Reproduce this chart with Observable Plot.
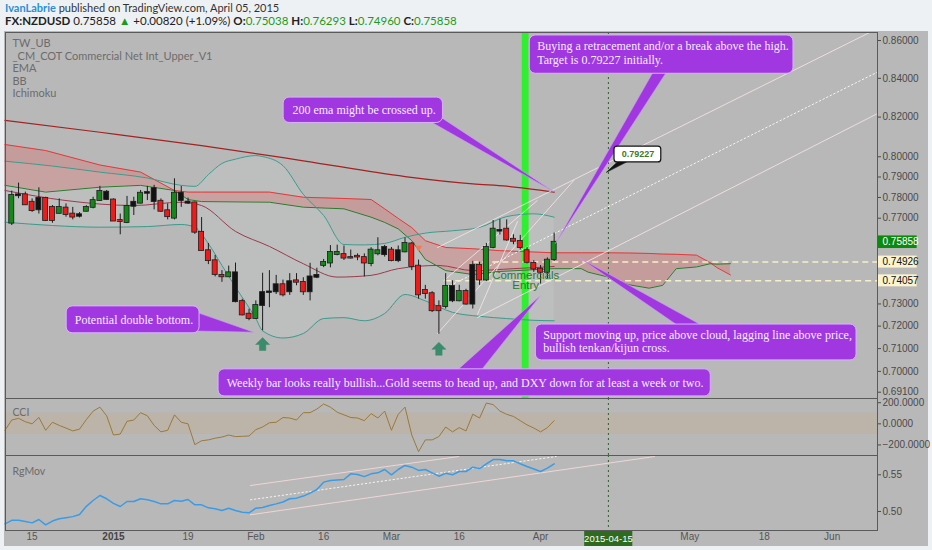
<!DOCTYPE html>
<html>
<head>
<meta charset="utf-8">
<script src="https://cdn.jsdelivr.net/npm/d3@7"></script>
<script src="https://cdn.jsdelivr.net/npm/@observablehq/plot@0.6"></script>
<style>
  body { margin:0; width:932px; height:550px; overflow:hidden; position:relative; background:#eef1f4; font-family: Lato, "Liberation Sans", sans-serif; }
  #bg { position:absolute; left:4px; top:31px; width:924px; height:515px; background:#b8b8b8; }
  .pane { position:absolute; left:0; }
  #h1 { position:absolute; left:5px; top:0px; font-size:11px; line-height:15px; color:#333; white-space:nowrap; }
  #h2 { position:absolute; left:5px; top:13px; font-size:11.5px; line-height:15px; color:#222; white-space:nowrap; }
  #h1 .who { color:#2a8fd6; font-weight:bold; }
  #h2 b { font-weight:bold; }
  #h2 .g { color:#1c9a1c; }
</style>
</head>
<body>
<div id="bg"></div>
<div id="h1"><span class="who">IvanLabrie</span> published on TradingView.com, April 05, 2015</div>
<div id="h2"><b>FX:NZDUSD</b> 0.75858 <span class="g">&#9650;</span> +0.00820 (+1.09%) <b>O:</b><span class="g">0.75038</span> <b>H:</b><span class="g">0.76293</span> <b>L:</b><span class="g">0.74960</span> <b>C:</b><span class="g">0.75858</span></div>
<div id="main" class="pane" style="top:31px"></div>
<div id="cci" class="pane" style="top:398px"></div>
<div id="rg" class="pane" style="top:455px"></div>
<script>
// ---------- DATA (bar index 0 = 2014-12-15, trading days) ----------
const candleStart = -3;
const opens  = [0.7676,0.7813,0.7813,0.7777,0.7796,0.7796,0.7752,0.7723,0.7749,0.7720,0.7717,0.7733,0.7752,0.7785,0.7826,0.7788,0.7689,0.7679,0.7777,0.7772,0.7824,0.7843,0.7782,0.7736,0.7700,0.7821,0.7778,0.7774,0.7633,0.7546,0.7499,0.7431,0.7424,0.7443,0.7311,0.7254,0.7234,0.7293,0.7355,0.7355,0.7388,0.7355,0.7406,0.7399,0.7355,0.7431,0.7477,0.7488,0.7528,0.7528,0.7514,0.7520,0.7514,0.7486,0.7531,0.7561,0.7549,0.7499,0.7540,0.7578,0.7474,0.7362,0.7347,0.7288,0.7288,0.7380,0.7314,0.7357,0.7299,0.7477,0.7409,0.7561,0.7642,0.7648,0.7600,0.7590,0.7546,0.7487,0.7460,0.7445,0.7504];
const highs  = [0.7831,0.7870,0.7826,0.7793,0.7847,0.7801,0.7761,0.7793,0.7769,0.7752,0.7727,0.7760,0.7801,0.7854,0.7834,0.7793,0.7720,0.7805,0.7801,0.7834,0.7854,0.7859,0.7793,0.7769,0.7891,0.7854,0.7797,0.7777,0.7703,0.7580,0.7524,0.7453,0.7474,0.7488,0.7321,0.7276,0.7314,0.7441,0.7453,0.7431,0.7409,0.7439,0.7439,0.7420,0.7487,0.7464,0.7505,0.7570,0.7572,0.7568,0.7549,0.7531,0.7531,0.7560,0.7607,0.7571,0.7561,0.7568,0.7606,0.7585,0.7502,0.7385,0.7356,0.7314,0.7439,0.7406,0.7385,0.7367,0.7496,0.7492,0.7580,0.7689,0.7694,0.7692,0.7621,0.7618,0.7561,0.7499,0.7477,0.7512,0.7629];
const lows   = [0.7665,0.7794,0.7761,0.7728,0.7720,0.7684,0.7676,0.7720,0.7705,0.7692,0.7701,0.7730,0.7745,0.7782,0.7785,0.7686,0.7621,0.7674,0.7713,0.7769,0.7785,0.7740,0.7728,0.7692,0.7692,0.7752,0.7766,0.7623,0.7546,0.7481,0.7424,0.7399,0.7424,0.7305,0.7246,0.7224,0.7231,0.7179,0.7283,0.7343,0.7332,0.7339,0.7383,0.7339,0.7314,0.7416,0.7467,0.7466,0.7522,0.7500,0.7507,0.7499,0.7424,0.7471,0.7522,0.7516,0.7494,0.7490,0.7536,0.7453,0.7322,0.7322,0.7261,0.7164,0.7277,0.7306,0.7310,0.7295,0.7277,0.7385,0.7402,0.7555,0.7620,0.7590,0.7574,0.7549,0.7484,0.7445,0.7391,0.7414,0.7496];
const closes = [0.7810,0.7808,0.7764,0.7736,0.7740,0.7689,0.7689,0.7752,0.7717,0.7705,0.7709,0.7752,0.7785,0.7829,0.7790,0.7686,0.7684,0.7757,0.7757,0.7821,0.7820,0.7780,0.7733,0.7707,0.7821,0.7785,0.7772,0.7633,0.7546,0.7499,0.7435,0.7424,0.7443,0.7310,0.7250,0.7234,0.7293,0.7352,0.7352,0.7388,0.7341,0.7402,0.7399,0.7355,0.7424,0.7422,0.7491,0.7538,0.7538,0.7511,0.7511,0.7516,0.7488,0.7549,0.7546,0.7527,0.7499,0.7546,0.7580,0.7472,0.7341,0.7347,0.7269,0.7269,0.7380,0.7314,0.7357,0.7299,0.7477,0.7409,0.7561,0.7648,0.7638,0.7596,0.7590,0.7560,0.7491,0.7460,0.7445,0.7502,0.7586];
const tones  = ["g","k","r","r","k","r","r","g","r","r","k","g","g","g","k","r","r","g","k","g","k","k","r","r","g","k","k","r","r","r","r","r","g","k","r","r","g","k","k","k","r","k","r","r","k","k","g","g","g","r","r","r","r","g","g","k","r","k","g","r","r","r","r","r","g","k","g","r","k","r","g","g","k","r","r","r","r","r","r","g","g"];

const emaIdx = [-4, 10, 25, 40, 55, 65, 70, 77];
const ema200 = [0.8183, 0.8123, 0.8056, 0.7980, 0.7902, 0.7866, 0.7855, 0.7826];

const bbIdx   = [-4, 3, 10, 17, 22, 24, 26, 28, 30, 33, 34, 37, 40, 43, 46, 49, 52, 55, 58, 62, 66, 70, 74, 77];
const bbUpper = [0.7978,0.7954,0.7924,0.7895,0.7859,0.7854,0.7912,0.7967,0.7988,0.8006,0.8001,0.7956,0.7815,0.7713,0.7575,0.7573,0.7580,0.7609,0.7629,0.7640,0.7656,0.7708,0.7721,0.7705];
const bbLower = [0.7681,0.7665,0.7657,0.7660,0.7670,0.7657,0.7579,0.7477,0.7377,0.7234,0.7179,0.7147,0.7167,0.7234,0.7238,0.7224,0.7257,0.7343,0.7314,0.7262,0.7244,0.7234,0.7226,0.7224];
const bbMidIdx = [-4, 5, 15, 22, 25, 30, 35, 40, 45, 50, 54, 60, 65, 71, 77];
const bbMid    = [0.7834,0.7785,0.7761,0.7777,0.7761,0.7637,0.7566,0.7485,0.7423,0.7431,0.7462,0.7477,0.7453,0.7462,0.7472];

const cloudIdx = [-4, 2, 10, 16, 21, 23, 25, 35, 40, 46, 50, 52, 54, 56, 58, 61, 65, 69, 77, 81, 82, 85, 88, 91, 93, 95, 98, 100, 101, 103];
const spanA = [0.7859,0.7826,0.7850,0.7859,0.7834,0.7790,0.7780,0.7777,0.7753,0.7745,0.7705,0.7680,0.7649,0.7593,0.7505,0.7453,0.7435,0.7449,0.7462,0.7462,0.7446,0.7423,0.7388,0.7372,0.7385,0.7462,0.7470,0.7485,0.7483,0.7485];
const spanB = [0.8061,0.8031,0.7959,0.7924,0.7834,0.7826,0.7826,0.7826,0.7801,0.7795,0.7790,0.7745,0.7699,0.7655,0.7593,0.7561,0.7555,0.7546,0.7536,0.7536,0.7536,0.7536,0.7535,0.7533,0.7530,0.7529,0.7525,0.7490,0.7467,0.7433];

const cciStart = -4;
const cci = [-61,36,52,20,0,61,-61,15,-15,-40,-67,-50,40,120,158,76,-106,-97,24,36,106,76,-15,-76,-61,85,15,0,-197,-160,-152,-136,-125,-106,-121,-118,-115,-55,-30,10,15,60,55,36,106,106,140,188,158,110,85,60,55,30,97,55,121,-61,90,158,-106,-264,-152,-152,-121,-30,-76,-36,-67,91,55,197,182,121,90,70,30,-10,-40,-76,-36,30];

const rgStart = -4;
const rgmov = [0.4832,0.4880,0.4880,0.4864,0.4845,0.4891,0.4818,0.4870,0.4900,0.4915,0.4930,0.4960,0.5070,0.5150,0.5218,0.5173,0.5110,0.5068,0.5136,0.5136,0.5173,0.5160,0.5136,0.5104,0.5104,0.5150,0.5140,0.5163,0.5091,0.5091,0.5050,0.5036,0.5014,0.5045,0.5014,0.4991,0.4982,0.5045,0.5054,0.5082,0.5104,0.5130,0.5173,0.5182,0.5210,0.5250,0.5300,0.5400,0.5422,0.5430,0.5436,0.5513,0.5505,0.5475,0.5513,0.5527,0.5572,0.5500,0.5572,0.5627,0.5604,0.5560,0.5572,0.5527,0.5481,0.5520,0.5500,0.5545,0.5545,0.5604,0.5585,0.5649,0.5708,0.5708,0.5690,0.5690,0.5650,0.5613,0.5580,0.5545,0.5590,0.5649];

const priceTicks = [0.86, 0.84, 0.82, 0.80, 0.79, 0.78, 0.77, 0.73, 0.72, 0.71, 0.70, 0.691];
const cciTicks = [200, 0, -200];
const rgTicks = [0.55, 0.50];
const xTickIdx = [0, 12, 23, 33, 43, 53, 63, 75, 97, 108, 118];
const xTickLabels = ["15", "2015", "19", "Feb", "16", "Mar", "16", "Apr", "May", "18", "Jun"];

const lastPrice = 0.75858;
const levelPrices = [0.74926, 0.74057];
const targetPrice = 0.79227;
const markedDayIdx = 85;          // 2015-04-15
const markedDayLabel = "2015-04-15";
const entryBand = [72.3, 73.3];   // bright green vertical marker

// trend / pitchfork lines (bar index, price)
const trendLines = [
  {id:"p1", kind:"solid", a:[59.8,0.7561], b:[124.7,0.8664]},
  {id:"p2", kind:"dot",   a:[60.7,0.7369], b:[124.7,0.8433]},
  {id:"p3", kind:"solid", a:[65.7,0.7239], b:[124.7,0.8218]},
  {id:"la", kind:"solid", a:[59.8,0.7167], b:[79.9,0.7883]},
  {id:"lb", kind:"solid", a:[60.7,0.7406], b:[74.5,0.7785]},
  {id:"lc", kind:"solid", a:[65.7,0.7253], b:[71.6,0.7684]}
];
const rgLines = [
  {id:"u", kind:"solid", a:[32.2,0.5354], b:[62.9,0.5749]},
  {id:"m", kind:"dot",   a:[32.2,0.5159], b:[77.3,0.5749]},
  {id:"l", kind:"solid", a:[32.2,0.4955], b:[91.8,0.5749]}
];

// callouts: box (bar index / price), pointer wedge, text anchor
const callouts = [
  {id:"buy", x1:73.4, x2:112.3, y1:0.8424, y2:0.8627, wedge:[[91.7,0.8440],[77.2,0.7580],[93.7,0.8440]],
   tx:74.5, ty:0.8597, text:"Buying a retracement and/or a break above the high.\nTarget is 0.79227 initially."},
  {id:"ema", x1:37.1, x2:60.6, y1:0.8170, y2:0.8300, wedge:[[58.6,0.8180],[76.9,0.7829],[60.6,0.8192]],
   tx:38.4, ty:0.8238, text:"200 ema might be crossed up."},
  {id:"dbl", x1:5.1, x2:24.7, y1:0.7168, y2:0.7289, wedge:[[24.3,0.7262],[32.7,0.7173],[24.3,0.7178]],
   tx:6.3, ty:0.7229, text:"Potential double bottom."},
  {id:"sup", x1:74.3, x2:121.6, y1:0.7048, y2:0.7207, wedge:[[95.6,0.7195],[80.9,0.7509],[99.3,0.7195]],
   tx:75.4, ty:0.7183, text:"Support moving up, price above cloud, lagging line above price,\nbullish tenkan/kijun cross."},
  {id:"wk", x1:27.5, x2:100.1, y1:0.6892, y2:0.7009, wedge:[[62.5,0.7000],[75.0,0.7339],[66.1,0.7000]],
   tx:28.7, ty:0.6950, text:"Weekly bar looks really bullish...Gold seems to head up, and DXY down for at least a week or two."}
];
const targetBox = {x1:85.9, x2:92.8, y1:0.7972, y2:0.8051, wedge:[[86.4,0.7976],[84.7,0.79227],[87.8,0.7976]], tx:89.35, ty:0.8011};
const arrows = [{x:34, y:0.7118}, {x:60, y:0.7097}];
const commercials = [{x:72.8, y:0.7433, t:"Commercials"}, {x:72.8, y:0.7386, t:"Entry"}];
const legendLines = ["TW_UB", "_CM_COT Commercial Net Int_Upper_V1", "EMA", "BB", "Ichimoku"];

// ---------- build tables ----------
const candles = opens.map((o, k) => ({i: candleStart + k, o, h: highs[k], l: lows[k], c: closes[k], t: tones[k]}));
const emaRows = emaIdx.map((i, k) => ({i, v: ema200[k]}));
const bbRows = bbIdx.map((i, k) => ({i, u: bbUpper[k], l: bbLower[k]}));
const bbMidRows = bbMidIdx.map((i, k) => ({i, v: bbMid[k]}));
const cloudRows = cloudIdx.map((i, k) => ({i, a: spanA[k], b: spanB[k]}));
const cciRows = cci.map((v, k) => ({i: cciStart + k, v}));
const rgRows = rgmov.map((v, k) => ({i: rgStart + k, v}));
const seg = (arr) => arr.flatMap(d => [{id:d.id, kind:d.kind, x:d.a[0], y:d.a[1]}, {id:d.id, kind:d.kind, x:d.b[0], y:d.b[1]}]);
const trendPts = seg(trendLines);
const rgPts = seg(rgLines);
const wedgePts = callouts.flatMap(c => c.wedge.map(p => ({id:c.id, x:p[0], y:p[1]})));

// block up-arrow symbol
const upArrow = {
  draw(ctx, size) {
    const s = Math.sqrt(size / Math.PI) / 7;
    ctx.moveTo(0, -7 * s); ctx.lineTo(7 * s, 0); ctx.lineTo(3.2 * s, 0); ctx.lineTo(3.2 * s, 6 * s);
    ctx.lineTo(-3.2 * s, 6 * s); ctx.lineTo(-3.2 * s, 0); ctx.lineTo(-7 * s, 0); ctx.closePath();
  }
};

// ---------- layout ----------
const W = 932, ML = 5, MR = 55;
const XD = [(ML - 31.6) / 6.78, (W - MR - 31.6) / 6.78];
const FONT = "Liberation Sans, Arial, sans-serif";
const SERIF = "Liberation Serif, Times New Roman, serif";
const PURPLE = "#a037e1";
const baseStyle = {fontSize:"10px", fontFamily:FONT, color:"#4a4a4a", background:"transparent", overflow:"visible"};
const xs = {domain: XD};
const up = d => Math.max(d.o, d.c), dn = d => Math.min(d.o, d.c);
const f5 = d3.format(".5f");

// ---------- main pane ----------
const mainH = 367;
const main = Plot.plot({
  width: W, height: mainH, marginLeft: ML, marginRight: MR, marginTop: 1, marginBottom: 0,
  style: baseStyle,
  x: {...xs, axis: null},
  y: {type: "log", domain: [0.6883, 0.8643], axis: "right", ticks: priceTicks, tickFormat: f5, tickSize: 3, tickPadding: 2, label: null},
  marks: [
    Plot.areaY(bbRows, {x: "i", y1: "l", y2: "u", fill: "#d2dede", fillOpacity: 0.2, curve: "monotone-x"}),
    Plot.areaY(cloudRows, {x: "i", y1: "a", y2: "b", fill: "#dc6c6c", fillOpacity: 0.36}),
    Plot.rect([entryBand], {x1: d => d[0], x2: d => d[1], y1: () => 0.6883, y2: () => 0.8643, fill: "#2ff02f"}),
    Plot.line(cloudRows, {x: "i", y: "b", stroke: "#e23a3a", strokeWidth: 1}),
    Plot.line(cloudRows, {x: "i", y: "a", stroke: "#2d7a2d", strokeWidth: 1}),
    Plot.line(emaRows, {x: "i", y: "v", stroke: "#a32222", strokeWidth: 1.2, curve: "monotone-x"}),
    Plot.line(bbRows, {x: "i", y: "u", stroke: "#3b9c8c", strokeWidth: 1, curve: "monotone-x"}),
    Plot.line(bbRows, {x: "i", y: "l", stroke: "#3b9c8c", strokeWidth: 1, curve: "monotone-x"}),
    Plot.line(bbMidRows, {x: "i", y: "v", stroke: "#9c3a4c", strokeWidth: 1, curve: "monotone-x"}),
    Plot.line(trendPts.filter(d => d.kind === "solid"), {x: "x", y: "y", z: "id", stroke: "#f2e2e2", strokeWidth: 0.9, clip: true}),
    Plot.line(trendPts.filter(d => d.kind === "dot"), {x: "x", y: "y", z: "id", stroke: "#f4f4f4", strokeWidth: 1, strokeDasharray: "1.5,2.5", clip: true}),
    Plot.ruleY(levelPrices, {x1: (d, k) => k === 0 ? 65 : 61, x2: () => XD[1], y: d => d, stroke: "#f6f0c6", strokeWidth: 1.5, strokeDasharray: "6,4"}),
    Plot.ruleX([markedDayIdx], {stroke: "#2d5f2d", strokeWidth: 1, strokeDasharray: "2,3"}),
    // candles
    Plot.ruleX(candles, {x: "i", y1: "l", y2: "h", stroke: "#1c1c1c", strokeWidth: 1}),
    ...[["g", "#15881a"], ["r", "#f01a1a"], ["k", "#121212"]].map(([t, col]) =>
      Plot.rect(candles.filter(d => d.t === t), {x1: d => d.i - 0.37, x2: d => d.i + 0.37, y1: dn, y2: up, fill: col, stroke: "#1c1c1c", strokeWidth: 0.8, insetTop: -0.4, insetBottom: -0.4})),
    Plot.dot([{x: 57, y: 0.7560}], {x: "x", y: "y", symbol: "triangle", r: 2.6, fill: "#f07a55", rotate: 180}),
    // annotations
    Plot.text(commercials, {x: "x", y: "y", text: "t", fill: "#2c7c2c", fontSize: 11.5, fontFamily: FONT}),
    Plot.dot(arrows, {x: "x", y: "y", symbol: upArrow, r: 7, fill: "#3a8c6c", stroke: "#3a8c6c", strokeWidth: 0.5}),
    Plot.line(wedgePts, {x: "x", y: "y", z: "id", fill: PURPLE, stroke: "#c9a0f0", strokeWidth: 0.6, curve: "linear-closed"}),
    Plot.rect(callouts, {x1: "x1", x2: "x2", y1: "y1", y2: "y2", fill: PURPLE, stroke: "#d9b3ff", strokeWidth: 1, rx: 6}),
    Plot.text(callouts, {x: "tx", y: "ty", text: "text", textAnchor: "start", lineAnchor: "middle", fill: "#f6edff", fontSize: 12, fontFamily: SERIF, lineHeight: 1.1, filter: d => !d.text.includes("\n")}),
    Plot.text(callouts, {x: "tx", y: "ty", text: "text", textAnchor: "start", lineAnchor: "top", fill: "#f6edff", fontSize: 12, fontFamily: SERIF, lineHeight: 1.1, filter: d => d.text.includes("\n")}),
    Plot.line(targetBox.wedge.map(p => ({x: p[0], y: p[1]})), {x: "x", y: "y", fill: "#111", stroke: "#111", strokeWidth: 0.6, curve: "linear-closed"}),
    Plot.rect([targetBox], {x1: "x1", x2: "x2", y1: "y1", y2: "y2", fill: "#ffffff", stroke: "#111", strokeWidth: 1.2, rx: 3}),
    Plot.text([targetPrice], {x: () => targetBox.tx, y: () => targetBox.ty, text: d => f5(d), fill: "#3f7a24", fontWeight: "bold", fontSize: 9, fontFamily: FONT}),
    Plot.text([legendLines.join("\n")], {frameAnchor: "top-left", dx: 7, dy: 6, lineAnchor: "top", text: d => d, fill: "#6c6c6c", fontSize: 11, fontFamily: "Lato, Liberation Sans, sans-serif", lineHeight: 1.13, textAnchor: "start"}),
    // right-axis price tags
    Plot.rect([lastPrice], {x1: () => XD[1] + 0.06, x2: () => XD[1] + 5.85, y1: d => d * Math.exp(-6.3 / 1607), y2: d => d * Math.exp(6.3 / 1607), fill: "#0c8a0c"}),
    Plot.text([lastPrice], {x: () => XD[1], dx: 5, y: d => d, text: d => f5(d), textAnchor: "start", fill: "#ffffff", fontSize: 10, fontFamily: FONT}),
    Plot.rect(levelPrices, {x1: () => XD[1] + 0.06, x2: () => XD[1] + 5.85, y1: d => d * Math.exp(-6 / 1607), y2: d => d * Math.exp(6 / 1607), fill: "#fbf4cf"}),
    Plot.text(levelPrices, {x: () => XD[1], dx: 5, y: d => d, text: d => f5(d), textAnchor: "start", fill: "#111", fontSize: 10, fontFamily: FONT}),
    Plot.frame({stroke: "#5a5a5a"})
  ]
});
document.getElementById("main").appendChild(main);

// ---------- CCI pane ----------
const cci_ = Plot.plot({
  width: W, height: 57, marginLeft: ML, marginRight: MR, marginTop: 0, marginBottom: 0,
  style: baseStyle,
  x: {...xs, axis: null},
  y: {domain: [-300, 240], axis: "right", ticks: cciTicks, tickFormat: d3.format(".4f"), tickSize: 3, tickPadding: 2, label: null},
  marks: [
    Plot.rect([[-100, 100]], {x1: () => XD[0], x2: () => XD[1], y1: d => d[0], y2: d => d[1], fill: "#c8a27a", fillOpacity: 0.24}),
    Plot.ruleX([markedDayIdx], {stroke: "#2d5f2d", strokeWidth: 1, strokeDasharray: "2,3"}),
    Plot.line(cciRows, {x: "i", y: "v", stroke: "#9b7a3a", strokeWidth: 1}),
    Plot.text(["CCI"], {frameAnchor: "top-left", dx: 7, dy: 10, text: d => d, fill: "#6c6c6c", fontSize: 10.5, fontFamily: "Lato, Liberation Sans, sans-serif", textAnchor: "start"}),
    Plot.frame({stroke: "#5a5a5a"})
  ]
});
document.getElementById("cci").appendChild(cci_);

// ---------- RgMov pane + x axis ----------
const rg = Plot.plot({
  width: W, height: 91, marginLeft: ML, marginRight: MR, marginTop: 0, marginBottom: 16,
  style: baseStyle,
  x: {...xs, axis: null},
  y: {domain: [0.4741, 0.5763], axis: "right", ticks: rgTicks, tickFormat: d3.format(".2f"), tickSize: 3, tickPadding: 2, label: null},
  marks: [
    Plot.ruleX([markedDayIdx], {stroke: "#2d5f2d", strokeWidth: 1, strokeDasharray: "2,3"}),
    Plot.line(rgPts.filter(d => d.kind === "solid"), {x: "x", y: "y", z: "id", stroke: "#efd6d6", strokeWidth: 1, clip: true}),
    Plot.line(rgPts.filter(d => d.kind === "dot"), {x: "x", y: "y", z: "id", stroke: "#f4f4f4", strokeWidth: 1, strokeDasharray: "1.5,2.5", clip: true}),
    Plot.line(rgRows, {x: "i", y: "v", stroke: "#3a9be6", strokeWidth: 1.5}),
    Plot.text(["RgMov"], {frameAnchor: "top-left", dx: 7, dy: 12, text: d => d, fill: "#6c6c6c", fontSize: 10.5, fontFamily: "Lato, Liberation Sans, sans-serif", textAnchor: "start"}),
    Plot.text(xTickIdx.map((i, k) => ({i, t: xTickLabels[k]})).filter(d => d.t !== "2015"), {x: "i", frameAnchor: "bottom", dy: 9, text: "t", fill: "#555", fontSize: 10, fontFamily: FONT}),
    Plot.text(xTickIdx.map((i, k) => ({i, t: xTickLabels[k]})).filter(d => d.t === "2015"), {x: "i", frameAnchor: "bottom", dy: 9, text: "t", fill: "#444", fontWeight: "bold", fontSize: 10, fontFamily: FONT}),
    Plot.rect([markedDayIdx], {x1: d => d - 3.5, x2: d => d + 3.6, y1: () => 0.4523, y2: () => 0.4741, fill: "#2e6b1f"}),
    Plot.text([markedDayLabel], {x: () => markedDayIdx, y: () => 0.4632, text: d => d, fill: "#ffffff", fontSize: 9.5, fontFamily: FONT}),
    Plot.frame({stroke: "#5a5a5a"})
  ]
});
document.getElementById("rg").appendChild(rg);
</script>
</body>
</html>
